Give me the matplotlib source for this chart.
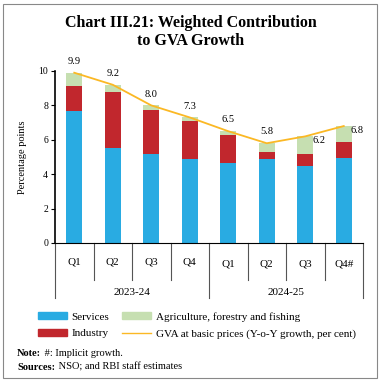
import matplotlib
matplotlib.use("Agg")

import matplotlib.pyplot as plt
from matplotlib.patches import Rectangle
from matplotlib.lines import Line2D

quarters = ["Q1", "Q2", "Q3", "Q4", "Q1", "Q2", "Q3", "Q4#"]
years = ["2023-24", "2024-25"]
services = [7.7, 5.55, 5.2, 4.9, 4.65, 4.9, 4.5, 4.95]
industry = [1.45, 3.25, 2.55, 2.2, 1.65, 0.4, 0.7, 0.95]
agriculture = [0.75, 0.4, 0.25, 0.2, 0.2, 0.5, 1.0, 0.9]
gva = [9.9, 9.2, 8.0, 7.3, 6.5, 5.8, 6.2, 6.8]

c_serv = "#29abe2"
c_ind = "#c1272d"
c_agri = "#c6dfb1"
c_gva = "#fbb824"

plt.rcParams["font.family"] = ["Liberation Serif", "DejaVu Serif"]

fig = plt.figure(figsize=(3.81, 3.83), dpi=100)
ax = fig.add_axes([55 / 381, 1 - 243 / 383, 308 / 381, 172 / 383])

x = list(range(len(quarters)))
w = 0.42
ax.bar(x, services, w, color=c_serv)
ax.bar(x, industry, w, bottom=services, color=c_ind)
agri_bottom = [s + i for s, i in zip(services, industry)]
ax.bar(x, agriculture, w, bottom=agri_bottom, color=c_agri)
ax.plot(x, gva, color=c_gva, linewidth=1.3, zorder=3)

for i, v in enumerate(gva):
    if i >= 6:
        ax.text(i + 0.35, v - 0.25, f"{v:.1f}", ha="center", va="center", fontsize=7.5)
    else:
        ax.text(i, v + 0.4, f"{v:.1f}", ha="center", va="bottom", fontsize=7.5)

ax.set_xlim(-0.5, 7.5)
ax.set_ylim(0, 10)
ax.set_yticks([0, 2, 4, 6, 8, 10])
ax.tick_params(axis="y", labelsize=7, length=3, width=0.8, pad=2)
ax.set_xticks([])
ax.spines["top"].set_visible(False)
ax.spines["right"].set_visible(False)
ax.spines["left"].set_linewidth(1.2)
ax.spines["bottom"].set_linewidth(0.8)
ax.set_ylabel("Percentage points", fontsize=7.5, labelpad=8)

# category boxes below the axis
tr = ax.get_xaxis_transform()
for i in range(len(quarters) + 1):
    xp = i - 0.5
    y_end = -0.32 if i in (0, 4, 8) else -0.215
    ax.plot([xp, xp], [0, y_end], transform=tr, color="#555555",
            linewidth=0.8, clip_on=False)
for i, q in enumerate(quarters):
    yq = -0.11 if i < 4 else -0.125
    ax.text(i, yq, q, transform=tr, ha="center", va="center", fontsize=8)
for j, yr in enumerate(years):
    ax.text(1.5 + 4 * j, -0.285, yr, transform=tr, ha="center", va="center", fontsize=8)

# legend
handles = [
    Rectangle((0, 0), 1, 1, color=c_serv),
    Rectangle((0, 0), 1, 1, color=c_ind),
    Rectangle((0, 0), 1, 1, color=c_agri),
    Line2D([0], [0], color=c_gva, linewidth=1),
]
labels = ["Services", "Industry", "Agriculture, forestry and fishing",
          "GVA at basic prices (Y-o-Y growth, per cent)"]
fig.legend(handles, labels, ncol=2, loc="upper left", bbox_to_anchor=(38 / 381, 1 - 312 / 383),
           frameon=False, fontsize=8, handlelength=2.6, handleheight=0.55,
           columnspacing=1.2, handletextpad=0.4, labelspacing=0.65, borderaxespad=0,
           borderpad=0)

fig.text(0.5, 1 - 32 / 383, "Chart III.21: Weighted Contribution\nto GVA Growth",
         ha="center", va="center", fontsize=11.5, fontweight="bold", linespacing=1.2)

# notes: bold lead-in followed by plain text
renderer = fig.canvas.get_renderer()
for lead, rest, ypix in [("Note:", " #: Implicit growth.", 354), ("Sources:", " NSO; and RBI staff estimates", 367)]:
    t = fig.text(17 / 381, 1 - ypix / 383, lead, fontsize=7.5, va="center", fontweight="bold")
    bb = t.get_window_extent(renderer)
    fig.text(bb.x1 / fig.bbox.width + 1 / 381, 1 - ypix / 383, rest, fontsize=7.5, va="center")

fig.patches.append(Rectangle((3 / 381, 5 / 383), 374 / 381, 374 / 383, transform=fig.transFigure,
                             fill=False, edgecolor="#888888", linewidth=0.8))

fig.savefig("out.png", dpi=100)
